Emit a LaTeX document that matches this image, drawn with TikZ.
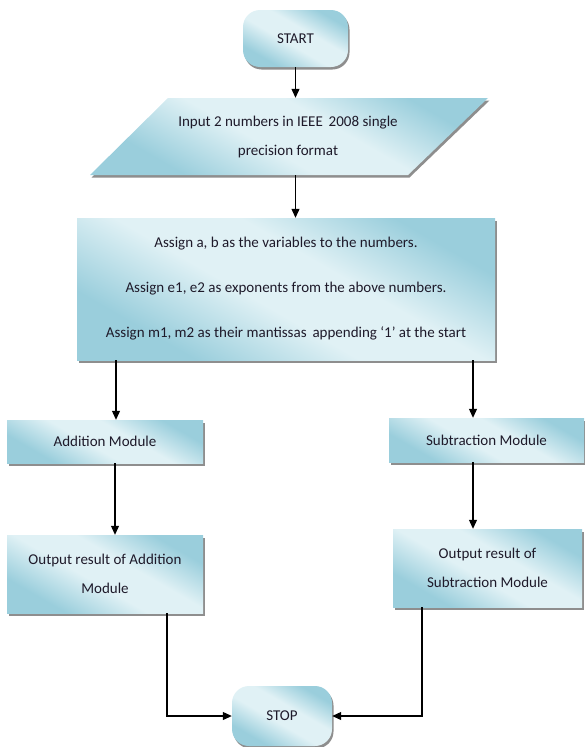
\documentclass[tikz,border=0pt]{standalone}
\usepackage{fontspec}
\setmainfont{Carlito}
\usetikzlibrary{shadows,arrows.meta}
\definecolor{boxedge}{HTML}{9ACEDC}
\definecolor{boxmid}{HTML}{E0F1F5}
\definecolor{shadowgray}{HTML}{8E8E8E}
\definecolor{ink}{HTML}{1E1A2A}
% light band through the middle, bluer towards the edges
\pgfdeclarehorizontalshading{cellshade}{100bp}{color(0bp)=(boxedge); color(28bp)=(boxedge);
  color(45bp)=(boxmid); color(58bp)=(boxmid); color(74bp)=(boxedge); color(100bp)=(boxedge)}
\begin{document}
\begin{tikzpicture}[x=1pt,y=-1pt,
  fillbox/.style={shading=cellshade,shading angle=60},
  shadowed/.style={drop shadow={shadow xshift=1.5pt,shadow yshift=-2.5pt,fill=shadowgray,opacity=1}},
  box/.style={fillbox,shadowed,rectangle,text=ink,align=center,inner sep=0pt,
    font=\fontsize{15}{29}\selectfont},
  terminal/.style={box,rounded corners=17pt},
  label/.style={text=ink,align=center,inner sep=0pt,font=\fontsize{15}{29}\selectfont},
  arr/.style={draw=black,line width=1.1pt,-{Triangle[length=9pt,width=8pt]}}]
\useasboundingbox (0,0) rectangle (585,747);

% start terminal
\node[terminal,minimum width=105pt,minimum height=57pt] (start) at (295.5,38.5) {START};

% input parallelogram (shape drawn as a path, text in a plain node)
\path[fillbox,shadowed] (168,98) -- (488,98) -- (408,175) -- (90,175) -- cycle;
\node[label,minimum width=240pt,minimum height=77pt] (in) at (288,136.5)
  {Input 2 numbers in IEEE\, 2008 single\\precision format};

% assignments
\node[box,minimum width=418pt,minimum height=142pt] (assign) at (286,289)
  {Assign a, b as the variables to the numbers.\\[16pt]
   Assign e1, e2 as exponents from the above numbers.\\[16pt]
   Assign m1, m2 as their mantissas\, appending `1' at the start};

% the two modules
\node[box,minimum width=196pt,minimum height=43pt] (add) at (105,441.5) {Addition Module};
\node[box,minimum width=195pt,minimum height=44pt] (sub) at (486.5,440) {Subtraction Module};

% outputs
\node[box,minimum width=196pt,minimum height=78pt] (outadd) at (105,574)
  {Output result of Addition\\Module};
\node[box,minimum width=189pt,minimum height=78pt] (outsub) at (487.5,568)
  {Output result of\\Subtraction Module};

% stop terminal
\node[terminal,minimum width=100pt,minimum height=60pt] (stop) at (282,716) {STOP};

% connectors
\draw[arr] (start.south) -- (start.south |- in.north);
\draw[arr] (start.south |- in.south) -- (start.south |- assign.north);
\draw[arr] ([xshift=11pt]add.north |- assign.south) -- ([xshift=11pt]add.north);
\draw[arr] ([xshift=-13.5pt]sub.north |- assign.south) -- ([xshift=-13.5pt]sub.north);
\draw[arr] ([xshift=10pt]add.south) -- ([xshift=10pt]add.south |- outadd.north);
\draw[arr] ([xshift=-13.5pt]sub.south) -- ([xshift=-13.5pt]sub.south |- outsub.north);
\draw[arr] ([xshift=62pt]outadd.south) |- (stop.west);
\draw[arr] ([xshift=-65.5pt]outsub.south) |- (stop.east);
\end{tikzpicture}
\end{document}
